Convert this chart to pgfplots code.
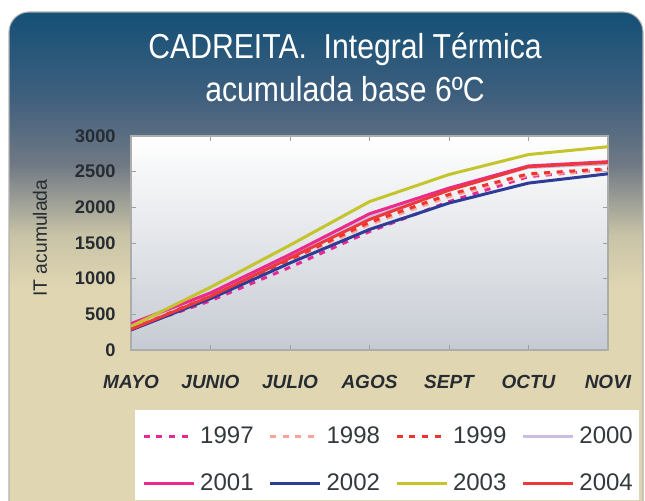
\documentclass[border=0pt]{standalone}
\usepackage{fontspec}
\setmainfont{Liberation Sans}
\newfontfamily\titlefont{Liberation Sans}[FakeStretch=0.87]
\usepackage{pgfplots}
\pgfplotsset{compat=1.18}

\definecolor{c1997}{RGB}{232,40,150}
\definecolor{c1998}{RGB}{246,165,150}
\definecolor{c1999}{RGB}{240,50,50}
\definecolor{c2000}{RGB}{205,188,225}
\definecolor{c2001}{RGB}{236,42,140}
\definecolor{c2002}{RGB}{45,60,150}
\definecolor{c2003}{RGB}{196,196,44}
\definecolor{c2004}{RGB}{236,58,58}
\definecolor{bg1}{RGB}{20,80,118}
\definecolor{bg2}{RGB}{65,96,126}
\definecolor{bg3}{RGB}{112,121,132}
\definecolor{bg4}{RGB}{200,195,166}
\definecolor{bg5}{RGB}{225,214,178}
\definecolor{plotbot}{RGB}{198,203,211}
\definecolor{labc}{RGB}{38,44,50}
\definecolor{legtext}{RGB}{50,58,62}

\pgfplotstableread{
x y1997 y1998 y1999 y2000 y2001 y2002 y2003 y2004
0 300 300 290 360 370 280 330 290
1 690 760 760 800 800 720 880 750
2 1160 1250 1270 1320 1340 1220 1470 1290
3 1660 1760 1790 1880 1910 1690 2080 1830
4 2080 2150 2180 2250 2270 2060 2460 2240
5 2430 2450 2470 2560 2580 2340 2740 2570
6 2530 2520 2540 2610 2640 2470 2850 2630
}\datatable

\begin{document}
\begin{tikzpicture}[x=0.75pt,y=0.75pt]
\useasboundingbox (0,0) rectangle (645,500);
\begin{scope}
\clip[rounded corners=15] (9,-30) rectangle (643,488);
\shade[top color=bg1,bottom color=bg2] (0,400) rectangle (645,488);
\shade[top color=bg2,bottom color=bg3] (0,335) rectangle (645,400.5);
\shade[top color=bg3,bottom color=bg4] (0,265) rectangle (645,335.5);
\shade[top color=bg4,bottom color=bg5] (0,210) rectangle (645,265.5);
\fill[bg5] (0,-30) rectangle (645,210.5);
\end{scope}
\draw[gray!60,line width=0.8pt,rounded corners=15] (9,-30) -- (9,488) -- (643,488) -- (643,-30);
\fill[white] (135,0) rectangle (639,90);
\node[text=white,font=\titlefont\fontsize{26pt}{30pt}\selectfont] at (345,451) {CADREITA.\ \ Integral Térmica};
\node[text=white,font=\titlefont\fontsize{26pt}{30pt}\selectfont] at (345,411) {acumulada base 6ºC};

\begin{axis}[
  at={(98.25pt,112.5pt)}, anchor=south west,
  scale only axis, width=357.75pt, height=160.5pt,
  xmin=0, xmax=6, ymin=0, ymax=3000,
  xtick={0,...,6},
  xticklabels={MAYO,JUNIO,JULIO,AGOS,SEPT,OCTU,NOVI},
  ytick={0,500,...,3000},
  tick align=inside, major tick length=3.5pt,
  tick style={gray!75,line width=0.6pt},
  axis line style={gray!65,line width=0.8pt},
  axis background/.style={shade,top color=white,bottom color=plotbot},
  /pgf/number format/assume math mode=true,
  /pgf/number format/1000 sep={},
  x tick label style={font=\bfseries\itshape\fontsize{14.25pt}{16pt}\selectfont,text=labc,anchor=base,yshift=-29pt},
  y tick label style={font=\bfseries\fontsize{13.7pt}{16pt}\selectfont,text=labc,anchor=east,xshift=-8pt},
  ylabel={IT acumulada},
  ylabel style={font=\fontsize{14.5pt}{16pt}\selectfont,text=labc,at={(axis description cs:-0.191,0.523)},anchor=center},
  legend columns=4,
  legend cell align=left,
  legend image code/.code={\draw[#1] (0pt,0pt) -- (37.5pt,0pt);},
  legend style={at={(axis description cs:0.023,-0.357)},anchor=north west,draw=none,fill=none,
    font=\fontsize{18pt}{20pt}\selectfont,text=legtext,inner sep=0pt,row sep=21.6pt,
    nodes={inner sep=0pt},
    /tikz/every odd column/.append style={column sep=3.75pt},
    /tikz/every even column/.append style={column sep=11.25pt}},
  every axis plot/.append style={line width=2.25pt,line join=round},
]
\addplot[c1997,dash pattern=on 4.5pt off 5pt] table[x=x,y=y1997] {\datatable};
\addlegendentry{1997}
\addplot[c1998,dash pattern=on 4.5pt off 5pt] table[x=x,y=y1998] {\datatable};
\addlegendentry{1998}
\addplot[c1999,dash pattern=on 4.5pt off 5pt] table[x=x,y=y1999] {\datatable};
\addlegendentry{1999}
\addplot[c2000] table[x=x,y=y2000] {\datatable};
\addlegendentry{2000}
\addplot[c2001] table[x=x,y=y2001] {\datatable};
\addlegendentry{2001}
\addplot[c2002] table[x=x,y=y2002] {\datatable};
\addlegendentry{2002}
\addplot[c2003] table[x=x,y=y2003] {\datatable};
\addlegendentry{2003}
\addplot[c2004] table[x=x,y=y2004] {\datatable};
\addlegendentry{2004}
\end{axis}
\end{tikzpicture}
\end{document}
